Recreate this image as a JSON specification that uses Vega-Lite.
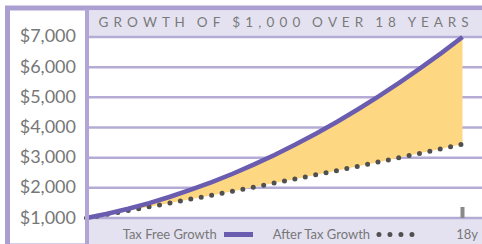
{
  "$schema": "https://vega.github.io/schema/vega-lite/v6.json",
  "width": 477,
  "height": 238,
  "autosize": {"type": "none"},
  "padding": {"left": 7.5, "top": 8, "right": 0, "bottom": 0},
  "background": "white",
  "config": {
    "view": {"stroke": "#ab9fd1", "strokeWidth": 5},
    "font": "Lato",
    "axisY": {"labelOverlap": false, "labelFlush": false}
  },
  "datasets": {
    "growth": [
      {"year": 0, "taxFree": 1000, "afterTax": 1000},
      {"year": 1, "taxFree": 1142, "afterTax": 1122},
      {"year": 2, "taxFree": 1307, "afterTax": 1246},
      {"year": 3, "taxFree": 1495, "afterTax": 1372},
      {"year": 4, "taxFree": 1705, "afterTax": 1499},
      {"year": 5, "taxFree": 1937, "afterTax": 1628},
      {"year": 6, "taxFree": 2191, "afterTax": 1758},
      {"year": 7, "taxFree": 2468, "afterTax": 1890},
      {"year": 8, "taxFree": 2769, "afterTax": 2024},
      {"year": 9, "taxFree": 3091, "afterTax": 2159},
      {"year": 10, "taxFree": 3435, "afterTax": 2296},
      {"year": 11, "taxFree": 3802, "afterTax": 2435},
      {"year": 12, "taxFree": 4191, "afterTax": 2575},
      {"year": 13, "taxFree": 4604, "afterTax": 2717},
      {"year": 14, "taxFree": 5038, "afterTax": 2860},
      {"year": 15, "taxFree": 5495, "afterTax": 3005},
      {"year": 16, "taxFree": 5974, "afterTax": 3151},
      {"year": 17, "taxFree": 6475, "afterTax": 3299},
      {"year": 18, "taxFree": 7000, "afterTax": 3449}
    ],
    "gridlines": [
      {"value": 1000}, {"value": 2000}, {"value": 3000}, {"value": 4000},
      {"value": 5000}, {"value": 6000}, {"value": 7000}
    ],
    "one": [{}]
  },
  "layer": [
    {
      "data": {"name": "one"},
      "mark": {"type": "rect", "fill": "#e4e2f1"},
      "encoding": {
        "x": {"datum": 0, "type": "quantitative", "scale": {"domain": [-3.782, 19.053], "nice": false, "zero": false}, "axis": null},
        "x2": {"datum": 19.1},
        "y": {"datum": 7000, "type": "quantitative", "scale": {"domain": [72, 7961], "nice": false, "zero": false}},
        "y2": {"datum": 7890}
      }
    },
    {
      "data": {"name": "one"},
      "mark": {"type": "rect", "fill": "#e4e2f1"},
      "encoding": {
        "x": {"datum": 0, "type": "quantitative", "axis": null},
        "x2": {"datum": 19.1},
        "y": {"datum": 72, "type": "quantitative"},
        "y2": {"datum": 1000}
      }
    },
    {
      "data": {"name": "gridlines"},
      "mark": {"type": "rule", "stroke": "#b5acd6", "strokeWidth": 2.5},
      "encoding": {
        "x": {"datum": 0, "type": "quantitative", "axis": null},
        "x2": {"datum": 19.1},
        "y": {
          "field": "value",
          "type": "quantitative",
          "axis": {
            "title": null,
            "values": [1000, 2000, 3000, 4000, 5000, 6000, 7000],
            "tickCount": 7,
            "format": "$,d",
            "labelFont": "Lato",
            "labelFontSize": 18,
            "labelColor": "#777777",
            "labelPadding": 11,
            "labelOverlap": false,
            "labelBound": false,
            "ticks": false,
            "grid": false,
            "domain": true,
            "domainColor": "#b0a5d5",
            "domainWidth": 4,
            "offset": -79,
            "zindex": 1
          }
        }
      }
    },
    {
      "data": {"name": "growth"},
      "mark": {"type": "area", "fill": "#fed782"},
      "encoding": {
        "x": {"field": "year", "type": "quantitative", "axis": null},
        "y": {"field": "afterTax", "type": "quantitative"},
        "y2": {"field": "taxFree"}
      }
    },
    {
      "data": {"name": "growth"},
      "mark": {"type": "line", "stroke": "#505050", "strokeWidth": 5, "strokeDash": [0, 10.6], "strokeCap": "round"},
      "encoding": {
        "x": {"field": "year", "type": "quantitative", "axis": null},
        "y": {"field": "afterTax", "type": "quantitative"}
      }
    },
    {
      "data": {"name": "growth"},
      "mark": {"type": "line", "stroke": "#6a5cae", "strokeWidth": 4.5},
      "encoding": {
        "x": {"field": "year", "type": "quantitative", "axis": null},
        "y": {"field": "taxFree", "type": "quantitative"}
      }
    },
    {
      "data": {"values": [{"label": "G\u00a0\u2009R\u00a0\u2009O\u00a0\u2009W\u00a0\u2009T\u00a0\u2009H\u2002\u00a0\u2009O\u00a0\u2009F\u2002\u00a0\u2009$\u00a0\u20091\u00a0\u2009,\u00a0\u20090\u00a0\u20090\u00a0\u20090\u2002\u00a0\u2009O\u00a0\u2009V\u00a0\u2009E\u00a0\u2009R\u2002\u00a0\u20091\u00a0\u20098\u2002\u00a0\u2009Y\u00a0\u2009E\u00a0\u2009A\u00a0\u2009R\u00a0\u2009S"}]},
      "mark": {"type": "text", "font": "Lato", "fontSize": 13.5, "color": "#7a7a7a", "align": "center", "baseline": "middle"},
      "encoding": {
        "x": {"datum": 9.43, "type": "quantitative", "axis": null},
        "y": {"datum": 7464, "type": "quantitative"},
        "text": {"field": "label"}
      }
    },
    {
      "data": {"values": [{"label": "Tax Free Growth"}]},
      "mark": {"type": "text", "font": "Lato", "fontSize": 13, "color": "#777777", "align": "left", "baseline": "middle"},
      "encoding": {
        "x": {"datum": 1.733, "type": "quantitative", "axis": null},
        "y": {"datum": 453, "type": "quantitative"},
        "text": {"field": "label"}
      }
    },
    {
      "data": {"values": [{"label": "After Tax Growth"}]},
      "mark": {"type": "text", "font": "Lato", "fontSize": 13, "color": "#777777", "align": "left", "baseline": "middle"},
      "encoding": {
        "x": {"datum": 8.914, "type": "quantitative", "axis": null},
        "y": {"datum": 453, "type": "quantitative"},
        "text": {"field": "label"}
      }
    },
    {
      "data": {"values": [{"label": "18y"}]},
      "mark": {"type": "text", "font": "Lato", "fontSize": 13, "color": "#777777", "align": "left", "baseline": "middle"},
      "encoding": {
        "x": {"datum": 17.7, "type": "quantitative", "axis": null},
        "y": {"datum": 453, "type": "quantitative"},
        "text": {"field": "label"}
      }
    },
    {
      "data": {"name": "one"},
      "mark": {"type": "rule", "stroke": "#6a5cae", "strokeWidth": 5},
      "encoding": {
        "x": {"datum": 6.583, "type": "quantitative", "axis": null},
        "x2": {"datum": 7.971},
        "y": {"datum": 453, "type": "quantitative"}
      }
    },
    {
      "data": {"name": "one"},
      "mark": {"type": "rule", "stroke": "#505050", "strokeWidth": 5, "strokeDash": [0, 11], "strokeCap": "round"},
      "encoding": {
        "x": {"datum": 14.0, "type": "quantitative", "axis": null},
        "x2": {"datum": 15.6},
        "y": {"datum": 453, "type": "quantitative"}
      }
    },
    {
      "data": {"name": "one"},
      "mark": {"type": "rule", "stroke": "#8a8a8a", "strokeWidth": 4},
      "encoding": {
        "x": {"datum": 18.0, "type": "quantitative", "axis": null},
        "y": {"datum": 1000, "type": "quantitative"},
        "y2": {"datum": 1365}
      }
    }
  ]
}
